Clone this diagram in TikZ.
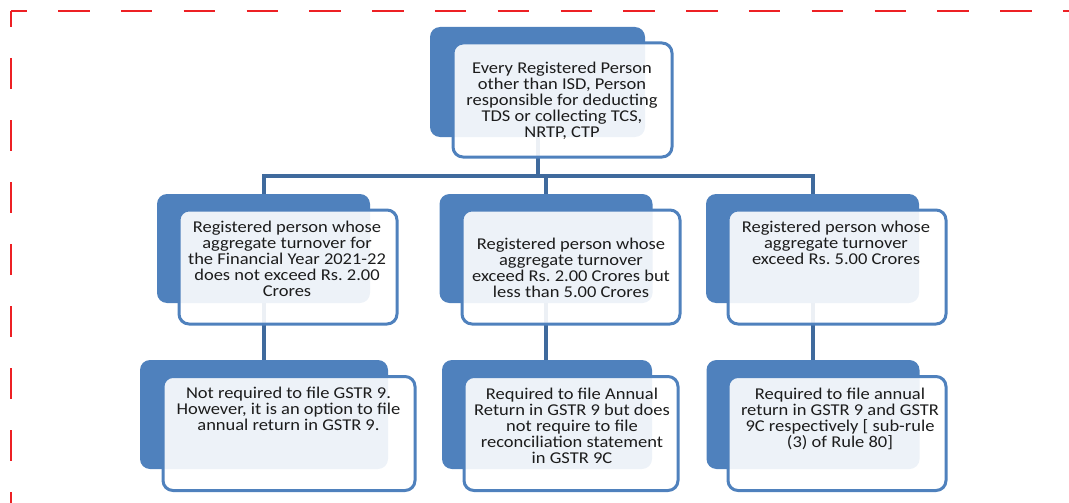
\documentclass[tikz,border=0pt]{standalone}
\usepackage{fontspec}
\newfontfamily\boxfont{Carlito}[FakeStretch=1.12]
\usetikzlibrary{backgrounds, positioning}

\definecolor{boxblue}{RGB}{79,129,189}
\definecolor{linkblue}{RGB}{63,106,157}
\definecolor{borderred}{RGB}{237,32,36}
\definecolor{textgrey}{RGB}{28,28,28}

\begin{document}
\frenchspacing
\begin{tikzpicture}[
            x=1pt, y=-1pt,
            link/.style={draw=linkblue, line width=4pt},
            boxtext/.style={anchor=north, inner sep=0pt, align=center, text=textgrey,
                font=\boxfont\fontsize{16.5}{16}\selectfont}
        ]

        \tikzstyle{backbox}=[
            rectangle,
            rounded corners=10pt,
            fill=boxblue,
            inner sep=0pt,
            minimum width=213pt,
            minimum height=109pt
        ]
        \tikzstyle{frontbox}=[
            rectangle,
            rounded corners=10pt,
            fill=white,
            fill opacity=0.9,
            draw=boxblue,
            line width=3pt,
            inner sep=0pt,
            minimum width=218pt,
            minimum height=114pt
        ]

        \useasboundingbox (0,0) rectangle (1069,503);

        % dashed red frame, only top and left edges fall inside the page
        \draw[borderred, line width=2pt, dash pattern=on 31.4pt off 31.4pt, dash phase=15.7pt] (11,11) -- (1080,11);
        \draw[borderred, line width=2pt, dash pattern=on 31pt off 31pt, dash phase=15pt] (11,11) -- (11,520);

        % root
        \node[backbox, minimum width=215pt, minimum height=110pt] (rootback) at (537.5,82) {};
        \node[frontbox, minimum width=219pt] (rootfront) at (562.5,100) {};
        \node[boxtext] (roottext) at (562,62) {Every Registered Person\\other than ISD, Person\\responsible for deducting\\TDS or collecting TCS,\\NRTP, CTP};

        % turnover levels
        \node[backbox] (lowback) at (263.5,248.5) {};
        \node[frontbox] (lowfront) at (288,267) {};
        \node[boxtext] (lowtext) at (287,221) {Registered person whose\\aggregate turnover  for\\the Financial Year 2021-22\\does not exceed Rs. 2.00\\Crores};

        \node[backbox] (midback) at (546,248.5) {};
        \node[frontbox] (midfront) at (571,267) {};
        \node[boxtext] (midtext) at (571,238) {Registered person whose\\aggregate turnover\\exceed Rs. 2.00 Crores but\\less than 5.00 Crores};

        \node[backbox] (highback) at (812.5,248.5) {};
        \node[frontbox] (highfront) at (837,267) {};
        \node[boxtext] (hightext) at (836,221) {Registered person whose\\aggregate turnover\\exceed Rs. 5.00 Crores};

        % what has to be filed
        \node[backbox, minimum width=248pt] (lowrule) at (264,414.5) {};
        \node[frontbox, minimum width=252pt] (lowrulefront) at (289,433.5) {};
        \node[boxtext] (lowruletext) at (288.5,387) {Not required to file GSTR 9.\\However, it is an option to file\\annual return in GSTR 9.};

        \node[backbox, minimum width=210pt] (midrule) at (547,414.5) {};
        \node[frontbox, minimum width=214pt] (midrulefront) at (571,433.5) {};
        \node[boxtext] (midruletext) at (572,388) {Required to file Annual\\Return in GSTR 9 but does\\not require to file\\reconciliation statement\\in GSTR 9C};

        \node[backbox] (highrule) at (813,414.5) {};
        \node[frontbox] (highrulefront) at (837,433.5) {};
        \node[boxtext] (highruletext) at (840,388) {Required to file annual\\return in GSTR 9 and GSTR\\9C respectively [ sub-rule\\(3) of Rule 80]};

        % connectors
        \coordinate (bus) at (0,176);
        \begin{scope}[on background layer]
            \draw[link] (rootback.center) -- (rootback.center |- bus) -| (lowback.center);
            \draw[link] (rootback.center |- bus) -| (highback.center);
            \draw[link] (midback.center |- bus) -- (midback.center);
            \path[link] (lowback.center) edge (lowback.center |- lowrule.center);
            \path[link] (midback.center) edge (midback.center |- midrule.center);
            \path[link] (highback.center) edge (highback.center |- highrule.center);
        \end{scope}

    \end{tikzpicture}
\end{document}
